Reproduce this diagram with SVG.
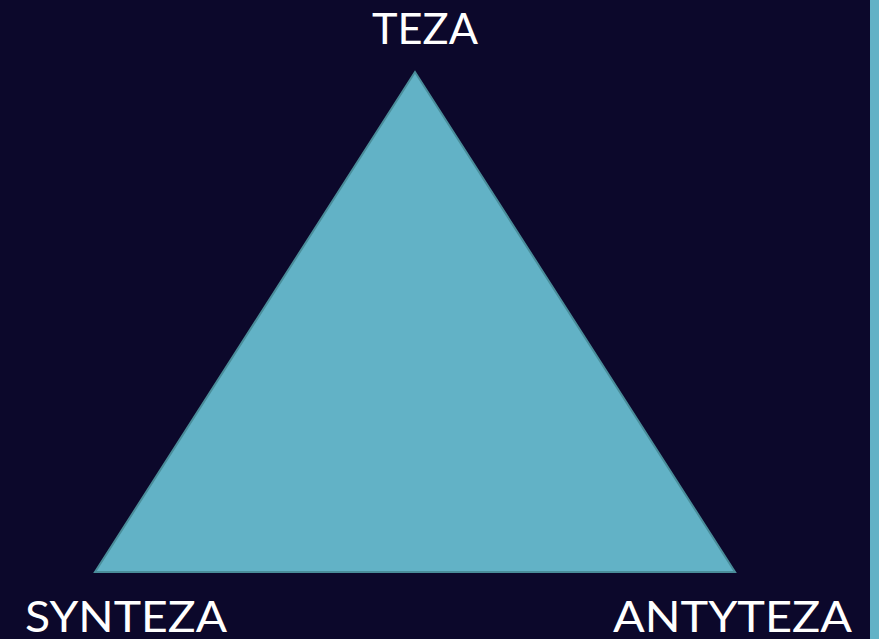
<svg xmlns="http://www.w3.org/2000/svg" width="879" height="639" viewBox="0 0 879 639">
<style>
.lbl{font-family:"Lato","Liberation Sans",sans-serif;font-size:43px;fill:#ffffff;}
</style>
<rect x="0" y="0" width="879" height="639" fill="#0c082b"/>
<rect x="870" y="0" width="9" height="639" fill="#62b2c6"/>
<g id="triangle">
<polygon points="415,72 95,572 735,572" fill="#62b2c6" stroke="#4a8d9a" stroke-width="2" stroke-linejoin="miter"/>
</g>
<g id="teza"><text class="lbl" x="372" y="44" textLength="106" lengthAdjust="spacingAndGlyphs">TEZA</text></g>
<g id="synteza"><text class="lbl" x="25" y="632" textLength="202" lengthAdjust="spacingAndGlyphs">SYNTEZA</text></g>
<g id="antyteza"><text class="lbl" x="613" y="632" textLength="239" lengthAdjust="spacingAndGlyphs">ANTYTEZA</text></g>
<g id="connectors"></g>
</svg>
